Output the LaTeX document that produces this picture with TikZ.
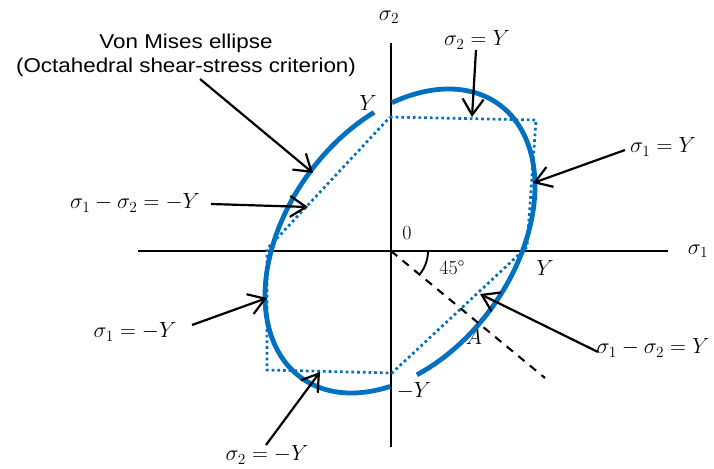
\RequirePackage{fix-cm}
\documentclass[tikz,border=0pt]{standalone}
\usepackage{fontspec}
\newfontfamily\arialf[FakeStretch=1.12]{Liberation Sans}
\usetikzlibrary{arrows.meta}
\definecolor{vmblue}{HTML}{0070C0}
\begin{document}
\begin{tikzpicture}[x=1pt,y=-1pt,
  axis/.style={line width=2.7pt},
  hexline/.style={vmblue, line width=2.7pt, dash pattern=on 2.7pt off 3pt},
  vmline/.style={vmblue, line width=4.8pt},
  dashline/.style={line width=2.1pt, dash pattern=on 8pt off 7pt},
  arr/.style={line width=2.2pt, -{Straight Barb[length=16pt,width=21pt]}},
  mlab/.style={font=\fontsize{22}{26}\selectfont, inner sep=1pt},
  tlab/.style={font=\arialf\fontsize{20}{24}\selectfont, align=center, inner sep=1pt},
  ]
\useasboundingbox (0,0) rectangle (714,468);
% axes
\coordinate (O) at (391,251);
\coordinate (xl) at (138,251);
\coordinate (xr) at (668,251);
\coordinate (yt) at (391,43);
\coordinate (yb) at (391,447);
\draw[axis] (xl) -- (xr);
\draw[axis] (yt) -- (yb);
\node[mlab] (s1) at (698,251) {$\sigma_1$};
\node[mlab] (s2) at (389,17) {$\sigma_2$};
% hexagon (Tresca)
\coordinate (h1) at (390,117);
\coordinate (h2) at (536,120);
\coordinate (h3) at (527,247);
\coordinate (h4) at (392,373);
\coordinate (h5) at (267,370);
\coordinate (h6) at (267,249);
\draw[hexline] (h1) -- (h2) -- (h3) -- (h4) -- (h5) -- (h6) -- cycle;
% label A (partly under the ellipse)
\node[mlab] (A) at (474,337) {$A$};
% von Mises ellipse
\draw[vmline] plot[domain=101.1:265.8, samples=120, smooth]
  ({400+135*cos(\x)},{241-54.8*cos(\x)-141.8*sin(\x)});
\draw[vmline] plot[domain=277.2:453.4, samples=140, smooth]
  ({400+135*cos(\x)},{241-54.8*cos(\x)-141.8*sin(\x)});
% 45 degree line and arc
\coordinate (dend) at (545,378);
\draw[dashline] (O) -- (dend);
\coordinate (a0) at (428,251);
\draw[line width=1.9pt] (a0) arc[start angle=0, end angle=39.5, radius=37];
% axis labels
\node[font=\fontsize{20}{24}\selectfont, inner sep=1pt] (zero) at (407,233) {0};
\node[font=\fontsize{20}{24}\selectfont, inner sep=1pt] (deg) at (452,268) {45\textdegree};
\node[mlab] (Yt) at (368,103) {$Y$};
\node[mlab] (Yr) at (545,268) {$Y$};
\node[mlab] (Yb) at (414,391) {$-Y$};
% annotated labels
\node[tlab] (vm) at (186,55) {Von Mises ellipse\\(Octahedral shear-stress criterion)};
\coordinate (vmS) at (200,79);
\coordinate (vmT) at (313,173);
\draw[arr] (vmS) -- (vmT);

\node[mlab] (l1) at (135,203) {$\sigma_1-\sigma_2=-Y$};
\coordinate (l1S) at (211,204);
\coordinate (l1T) at (308,207);
\draw[arr] (l1S) -- (l1T);

\node[mlab] (l2) at (135,332) {$\sigma_1=-Y$};
\coordinate (l2S) at (192,325);
\coordinate (l2T) at (267,298);
\draw[arr] (l2S) -- (l2T);

\node[mlab] (l3) at (267,455) {$\sigma_2=-Y$};
\coordinate (l3S) at (266,445);
\coordinate (l3T) at (320,372);
\draw[arr] (l3S) -- (l3T);

\node[mlab] (l4) at (477,40) {$\sigma_2=Y$};
\coordinate (l4S) at (476,50);
\coordinate (l4T) at (472,117);
\draw[arr] (l4S) -- (l4T);

\node[mlab] (l5) at (663,147) {$\sigma_1=Y$};
\coordinate (l5S) at (625,150);
\coordinate (l5T) at (533,183);
\draw[arr] (l5S) -- (l5T);

\node[mlab] (l6) at (653,348) {$\sigma_1-\sigma_2=Y$};
\coordinate (l6S) at (598,352);
\coordinate (l6T) at (480,294);
\draw[arr] (l6S) -- (l6T);
\end{tikzpicture}
\end{document}
